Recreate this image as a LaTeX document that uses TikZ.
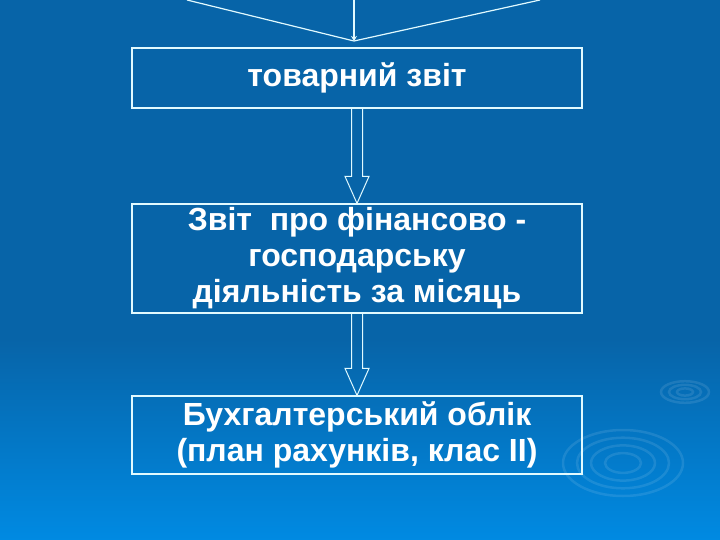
\documentclass[tikz,border=0pt]{standalone}
\usepackage{fontspec}
\setmainfont{Liberation Sans}
\usetikzlibrary{calc,arrows.meta}
\definecolor{bgtop}{RGB}{7,100,168}
\definecolor{bgbot}{RGB}{0,138,226}
\definecolor{edge}{RGB}{225,250,255}
\newcommand\hollowdown[2]{%
\draw[arrline] ($(#1.south)+(-5.5,0)$) -- ($(#2.north)+(-5.5,-27)$) -- ($(#2.north)+(-12,-27)$)
 -- (#2.north) -- ($(#2.north)+(12,-27)$) -- ($(#2.north)+(5.5,-27)$) -- ($(#1.south)+(5.5,0)$);}
\begin{document}
\begin{tikzpicture}[x=1pt,y=-1pt,
 box/.style={draw=edge,line width=1.2pt,minimum width=450pt,align=center,text=white,
   font=\fontsize{32}{36}\selectfont\bfseries,inner sep=0pt},
 arrline/.style={draw=edge,line width=1pt,line join=miter},
 ripple/.style={draw=white,opacity=.1,line width=2.5pt}]
\useasboundingbox (0,0) rectangle (720,540);
\fill[bgtop] (0,0) rectangle (720,340);
\shade[top color=bgtop,bottom color=bgbot] (0,339) rectangle (720,540);
% ripples
\foreach \r in {18,32,46,60}
  \draw[ripple] (623,463) ellipse [x radius=\r, y radius=.55*\r];
\foreach \r in {8,16,24}
  \draw[ripple] (685,392) ellipse [x radius=\r, y radius=.45*\r];

\node[box,minimum height=60pt] (zvit) at (357,78) {товарний звіт};
\node[box,minimum height=109pt] (fin) at (357,258.5) {Звіт\ \ про фінансово -\\господарську\\діяльність за місяць};
\node[box,minimum height=78pt] (oblik) at (357,435) {Бухгалтерський облік\\(план рахунків, клас II)};

\coordinate (join) at (354,41);
\coordinate (lt) at (187,0);
\coordinate (rt) at (540,0);
\coordinate (top) at (354,0);
\draw[edge,line width=1.2pt] (lt) -- (join) -- (rt);
\draw[edge,line width=1.2pt,-{Stealth[length=5pt,width=6pt]}] (top) -- (join);

\hollowdown{zvit}{fin}
\hollowdown{fin}{oblik}
\end{tikzpicture}
\end{document}
